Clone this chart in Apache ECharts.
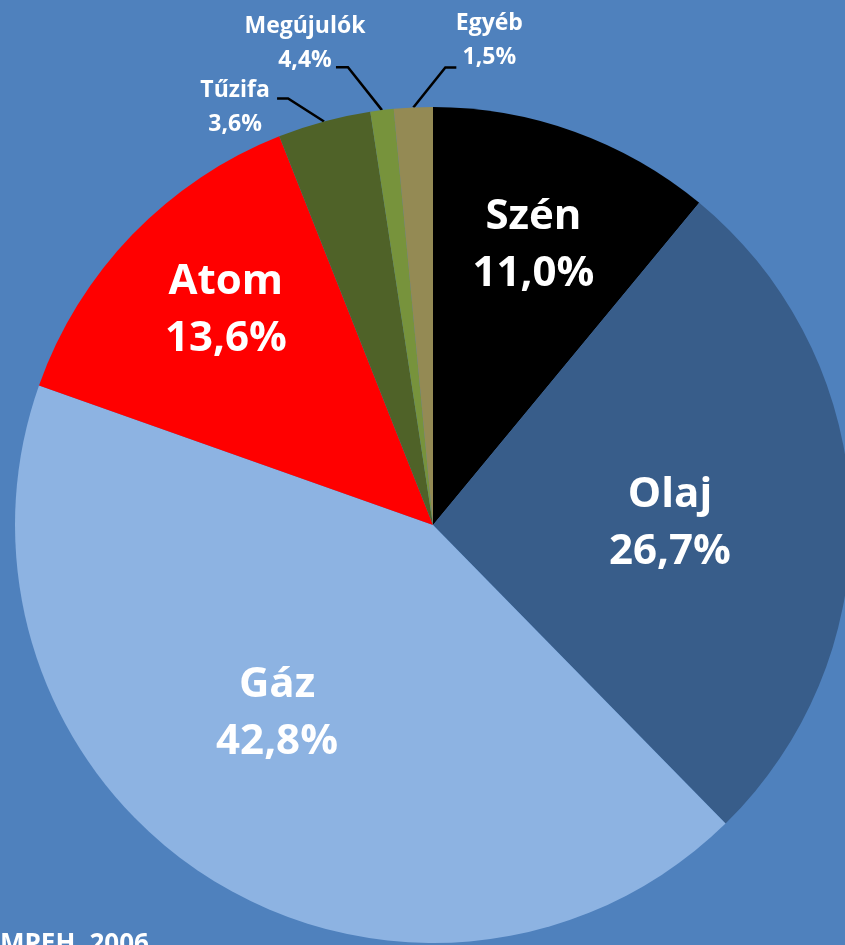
<!DOCTYPE html>
<html>
<head>
<meta charset="utf-8">
<script src="https://cdn.jsdelivr.net/npm/echarts/dist/echarts.min.js"></script>
<style>
    html, body { margin: 0; padding: 0; background: #4F81BD; }
    #main { width: 845px; height: 945px; }
</style>
</head>
<body>
<div id="main"></div>
<script>
    // adatok a képről
    var categories = ['Szén', 'Olaj', 'Gáz', 'Atom', 'Tűzifa', 'Megújulók', 'Egyéb'];
    var sliceValues = [11.0, 26.7, 42.8, 13.6, 3.6, 0.9, 1.5];   // szeletek mérete
    var percentLabels = ['11,0%', '26,7%', '42,8%', '13,6%', '3,6%', '4,4%', '1,5%'];
    var sourceText = 'MPEH, 2006';

    var colors = ['#000000', '#385D8A', '#8DB3E2', '#FF0000', '#4F6228', '#77933C', '#948A54'];

    // kör helye
    var CX = 433, CY = 525, R = 418;
    // belső feliratok: [sugár arány, szög eltolás fokban]
    var insidePos = [[0.71, 0], [0.567, 2], [0.586, 7], [0.713, 2]];
    // külső feliratok: könyök dx/dy, vízszintes szakasz, szöveg dx/dy a vonal végétől
    var outsidePos = {
        4: {elbow: [-36, -23], tail: -11, text: [-42, 9]},
        5: {elbow: [-34, -43], tail: -12, text: [-31, -24]},
        6: {elbow: [32, -40], tail: 11, text: [33, -27]}
    };

    var total = sliceValues.reduce(function (a, b) { return a + b; }, 0);
    var midAngles = [];
    var cum = 0;
    sliceValues.forEach(function (v) {
        midAngles.push((cum + v / 2) / total * 360);
        cum += v;
    });

    function polar(angleDeg, r) {
        var a = angleDeg * Math.PI / 180;
        return [CX + r * Math.sin(a), CY - r * Math.cos(a)];
    }

    var pieData = categories.map(function (name, i) {
        var inside = i < 4;
        return {
            name: name,
            value: sliceValues[i],
            itemStyle: {color: colors[i]},
            label: {
                position: inside ? 'inside' : 'outside',
                formatter: inside ? '{big|' + name + '}\n{big|' + percentLabels[i] + '}'
                                  : '{small|' + name + '}\n{small|' + percentLabels[i] + '}'
            },
            labelLine: {show: !inside}
        };
    });

    var myChart = echarts.init(document.getElementById('main'));
    myChart.setOption({
        backgroundColor: '#4F81BD',
        animation: false,
        series: [{
            type: 'pie',
            center: [CX, CY],
            radius: [0, R],
            startAngle: 90,
            clockwise: true,
            avoidLabelOverlap: false,
            itemStyle: {borderWidth: 0},
            label: {
                color: '#fff',
                fontFamily: 'Open Sans',
                fontWeight: 'bold',
                rich: {
                    big: {fontSize: 42, lineHeight: 57, color: '#fff', fontFamily: 'Open Sans', fontWeight: 'bold', align: 'center'},
                    small: {fontSize: 23, lineHeight: 34, color: '#fff', fontFamily: 'Open Sans', fontWeight: 'bold', align: 'center'}
                }
            },
            labelLine: {
                lineStyle: {color: '#000', width: 2.5}
            },
            labelLayout: function (params) {
                var i = params.dataIndex;
                if (i < 4) {
                    var p = polar(midAngles[i] + insidePos[i][1], R * insidePos[i][0]);
                    return {x: p[0], y: p[1], align: 'center', verticalAlign: 'middle'};
                }
                var o = outsidePos[i];
                var s = polar(midAngles[i], R);
                var e = [s[0] + o.elbow[0], s[1] + o.elbow[1]];
                var t = [e[0] + o.tail, e[1]];
                return {
                    x: t[0] + o.text[0],
                    y: t[1] + o.text[1],
                    align: 'center',
                    verticalAlign: 'middle',
                    labelLinePoints: [s, e, t]
                };
            },
            data: pieData
        }],
        graphic: [{
            type: 'text',
            left: 0,
            top: 932,
            z: 100,
            style: {
                text: sourceText,
                fill: '#fff',
                font: 'bold 26px "Open Sans"'
            }
        }]
    });
</script>
</body>
</html>
